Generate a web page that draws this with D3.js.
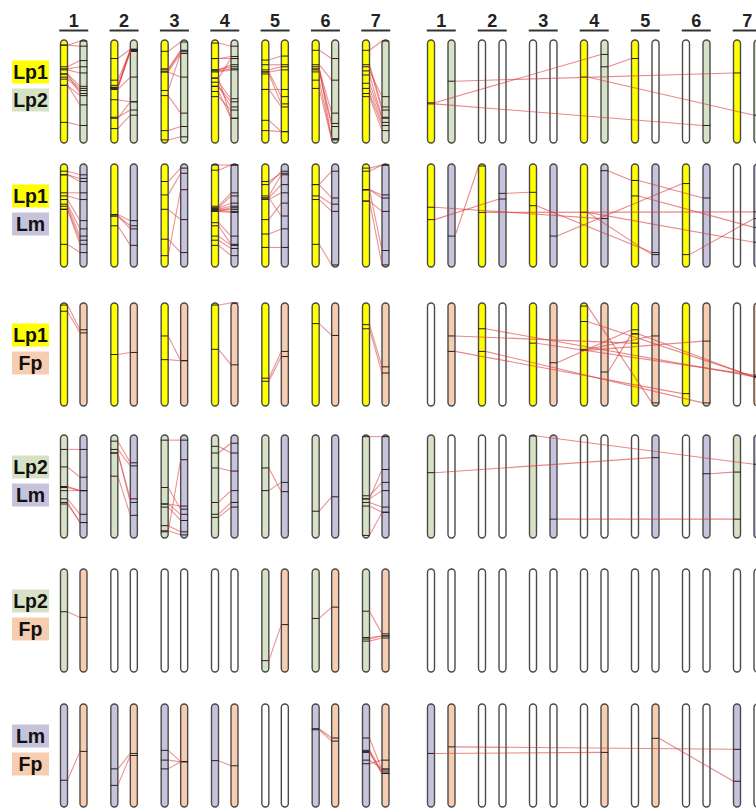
<!DOCTYPE html>
<html>
<head>
<meta charset="utf-8">
<script src="https://cdn.jsdelivr.net/npm/d3@7"></script>
<style>
body{margin:0;background:#fff;}
svg{display:block;}
</style>
</head>
<body>
<script>
// chromosome numbers (column headers)
var chromNames = ["1", "2", "3", "4", "5", "6", "7"];

// species compared in each row (top, bottom)
var rowSpecies = [
    ["Lp1", "Lp2"],
    ["Lp1", "Lm"],
    ["Lp1", "Fp"],
    ["Lp2", "Lm"],
    ["Lp2", "Fp"],
    ["Lm", "Fp"]
];

// syntenic links on the same chromosome, [position on first, position on second], % of length
var leftLinks = [
    [
        [[5,1],[5,6],[26,20],[28,26],[29,32],[33,45],[36,47],[38,49],[33,52],[44,54],[44,63],[80,83]],
        [[18,9],[39,10],[44,10],[46,11],[47,11],[46,9],[48,36],[58,60],[76,60],[75,68],[86,73]],
        [[11,2],[28,10],[29,11],[31,13],[31,36],[49,13],[54,71],[88,84],[97,94]],
        [[3,6],[18,16],[18,18],[29,24],[29,26],[30,28],[31,29],[37,18],[41,57],[45,60],[45,65],[55,68],[50,76],[37,76]],
        [[19.5,15.6],[24,24],[29,26],[31,29],[31,55],[33,62],[48,48],[48,65],[78,89],[88,89]],
        [[10,18],[24,39],[28,71],[29,81],[31,84],[39,96],[47,97],[26,96]],
        [[10,1],[24,65],[26,68],[34,75],[42,76],[47,80],[52,83],[55,88],[30,55]]
    ],
    [
        [[7,10.5],[10.5,14],[10.5,17],[28,28],[31,34.5],[34.5,55],[39,63],[41,70],[44,74],[44,78],[78,86]],
        [[49,55],[50.5,60],[50.5,63],[60,79]],
        [[17,4],[30,9],[44,54],[89,25],[73,86]],
        [[1,1],[6,1],[41,28],[42.5,31],[43,38],[44,41],[44,44],[45,46],[46,47],[46,42.5],[57,70],[60,78],[70,79],[74,82],[79,89]],
        [[17,9],[20,7],[31,10.5],[33,20],[34.5,28],[33,50.5],[54,38],[68,63],[81,81]],
        [[20,7],[20,33],[31,39],[34.5,46],[78,98]],
        [[4,1],[7,1],[25,30],[25,33],[36,46],[25,84],[36,98]]
    ],
    [
        [[2,26],[8,29]],
        [[50,48]],
        [[32,56],[55,56]],
        [[2,0],[45,60]],
        [[73,47],[76,52]],
        [[20,31.5]],
        [[21,62],[25,68]]
    ],
    [
        [[14,14],[31,41],[50,54],[51,54],[54,54],[62,77],[65.5,85],[67,85]],
        [[6,27],[14,30],[17.5,62],[17.5,65.5],[40,78]],
        [[5,5],[51,72],[67,77],[70,83],[88,94],[93,97],[94,24],[67,69]],
        [[11,17.5],[17.5,8],[32,35],[65.5,54],[77,65.5],[80,70]],
        [[32,55],[54,46]],
        [[74,60]],
        [[1.6,1.6],[62,33.5],[59,46],[62,54],[65.5,70],[69,75],[97.5,75]]
    ],
    [
        [[41.5,47]],
        [],
        [],
        [],
        [[89,54]],
        [[48,37]],
        [[41,63],[66.5,65],[68,65],[70,67]]
    ],
    [
        [[74,46]],
        [[63,48],[79,50]],
        [[45,56],[54.5,56],[63,56]],
        [[55,60]],
        [],
        [[24,33],[25,36]],
        [[33,64],[45,66],[46,67.5],[54.5,63],[58,54.5],[47,67.5]]
    ]
];

// links between different chromosomes: [species, chromosome, position, species, chromosome, position]
var rightLinks = [
    [[0,1,61, 1,4,14],[0,1,62, 1,6,83],[1,1,40, 0,7,32],[0,4,36, 1,7,73],[1,4,26, 0,5,18]],
    [[1,1,70, 0,2,2],[0,1,42, 1,4,53],[0,1,54, 1,2,34],[0,2,47, 1,7,46.5],[1,2,28.5, 0,3,27.5],
     [0,3,40.5, 1,5,86],[1,3,70, 0,6,19],[1,4,6.5, 0,5,16],[0,5,16, 1,6,33],[0,5,31, 1,7,61.5],
     [0,4,47, 1,5,88],[0,6,88, 1,7,53],[0,4,47, 1,7,76]],
    [[1,1,32, 0,5,39],[1,1,47, 0,6,88],[0,2,25, 1,7,71.5],[0,2,47, 1,6,97],[0,3,39, 1,7,70],
     [1,3,58, 0,5,26],[0,4,3, 1,5,97],[0,4,18, 1,7,71.5],[0,4,46, 1,6,37],[1,4,67, 0,5,30],
     [0,5,30, 1,7,72],[1,5,32, 0,4,45]],
    [[0,1,36.6, 1,5,22],[0,3,1, 1,7,28.4],[1,3,81.7, 0,7,81.7],[1,6,37.6, 0,7,36]],
    [],
    [[0,1,48, 1,4,47],[1,1,41.6, 0,7,44],[1,5,33.3, 0,7,75]]
];

window.onload = function(){
    var svg = d3.select("body")
        .append("svg")
        .attr("width", 756)
        .attr("height", 808)
        .style("font-family", "'Liberation Sans', Arial, sans-serif");

    var fills = {Lp1: "#ffff00", Lp2: "#d6e1c5", Lm: "#c8c3dd", Fp: "#f7cdb1"};
    var rowTops = [40, 164, 303, 435, 569, 704];
    var chromLen = 103, chromW = 7;
    var linkColor = "#d83a3a";

    var xLeft = d3.scalePoint().domain(chromNames).range([64, 366]);
    var xRight = d3.scalePoint().domain(chromNames).range([431, 737]);
    var gapL = 19.5, gapR = 20.5;

    //column headers with underline
    [[xLeft, gapL], [xRight, gapR]].forEach(function(p){
        var head = svg.append("g");
        head.selectAll("text")
            .data(chromNames)
            .enter()
            .append("text")
            .attr("x", function(d){ return p[0](d) + p[1] / 2; })
            .attr("y", 27)
            .attr("text-anchor", "middle")
            .style("font-size", "18px")
            .style("font-weight", "bold")
            .style("fill", "#222")
            .text(function(d){ return d; });
        head.selectAll("line")
            .data(chromNames)
            .enter()
            .append("line")
            .attr("x1", function(d){ return p[0](d) + p[1] / 2 - 14.5; })
            .attr("x2", function(d){ return p[0](d) + p[1] / 2 + 14.5; })
            .attr("y1", 30.5)
            .attr("y2", 30.5)
            .style("stroke", "#333")
            .style("stroke-width", 2);
    });

    function drawChrom(g, cx, top, fill){
        g.append("rect")
            .attr("x", cx - chromW / 2)
            .attr("y", top)
            .attr("width", chromW)
            .attr("height", chromLen)
            .attr("rx", 3.5)
            .style("fill", fill)
            .style("stroke", "#4a4a4a")
            .style("stroke-width", 1.4);
    }
    function drawMark(g, cx, y){
        g.append("line")
            .attr("x1", cx - chromW / 2 - 0.3)
            .attr("x2", cx + chromW / 2 + 0.3)
            .attr("y1", y)
            .attr("y2", y)
            .style("stroke", "#222")
            .style("stroke-width", 1);
    }

    rowSpecies.forEach(function(sp, r){
        var top = rowTops[r];
        var y = d3.scaleLinear().domain([0, 100]).range([top, top + chromLen]);
        var mid = top + chromLen / 2;

        //species label boxes
        sp.forEach(function(name, k){
            var by = mid - 31 + k * 28;
            svg.append("rect")
                .attr("x", 12)
                .attr("y", by)
                .attr("width", 37)
                .attr("height", 23)
                .style("fill", fills[name]);
            svg.append("text")
                .attr("x", 30.5)
                .attr("y", by + 18.5)
                .attr("text-anchor", "middle")
                .style("font-size", "19.5px")
                .style("font-weight", "bold")
                .style("fill", "#111")
                .text(name);
        });

        //left panel: same chromosome pairs
        var gl = svg.append("g").attr("class", "left");
        chromNames.forEach(function(c, i){
            var links = leftLinks[r][i];
            var xa = xLeft(c), xb = xLeft(c) + gapL;
            var used = links.length > 0;
            drawChrom(gl, xa, top, used ? fills[sp[0]] : "#fff");
            // row 1 chromosome 5 is drawn yellow on both sides in the original
            var fb = used ? fills[sp[1]] : "#fff";
            if (r === 0 && i === 4) fb = fills.Lp1;
            drawChrom(gl, xb, top, fb);
            links.forEach(function(d){
                drawMark(gl, xa, y(d[0]));
                drawMark(gl, xb, y(d[1]));
            });
            gl.append("g").selectAll("line")
                .data(links)
                .enter()
                .append("line")
                .attr("x1", xa + chromW / 2)
                .attr("x2", xb - chromW / 2)
                .attr("y1", function(d){ return y(d[0]); })
                .attr("y2", function(d){ return y(d[1]); })
                .style("stroke", linkColor)
                .style("stroke-opacity", 0.55)
                .style("stroke-width", 1.1);
        });

        //right panel: links between different chromosomes
        var gr = svg.append("g").attr("class", "right");
        var links = rightLinks[r];
        function cxR(side, chr){ return xRight(chromNames[chr - 1]) + side * gapR; }
        chromNames.forEach(function(c, i){
            [0, 1].forEach(function(side){
                var used = links.some(function(d){
                    return (d[0] === side && d[1] === i + 1) || (d[3] === side && d[4] === i + 1);
                });
                drawChrom(gr, cxR(side, i + 1), top, used ? fills[sp[side]] : "#fff");
            });
        });
        links.forEach(function(d){
            drawMark(gr, cxR(d[0], d[1]), y(d[2]));
            drawMark(gr, cxR(d[3], d[4]), y(d[5]));
        });
        gr.append("g").selectAll("line")
            .data(links)
            .enter()
            .append("line")
            .attr("x1", function(d){
                var a = cxR(d[0], d[1]), b = cxR(d[3], d[4]);
                return a + (b > a ? 1 : -1) * chromW / 2;
            })
            .attr("x2", function(d){
                var a = cxR(d[0], d[1]), b = cxR(d[3], d[4]);
                return b - (b > a ? 1 : -1) * chromW / 2;
            })
            .attr("y1", function(d){ return y(d[2]); })
            .attr("y2", function(d){ return y(d[5]); })
            .style("stroke", linkColor)
            .style("stroke-opacity", 0.6)
            .style("stroke-width", 1.1);
    });
};
</script>
</body>
</html>
